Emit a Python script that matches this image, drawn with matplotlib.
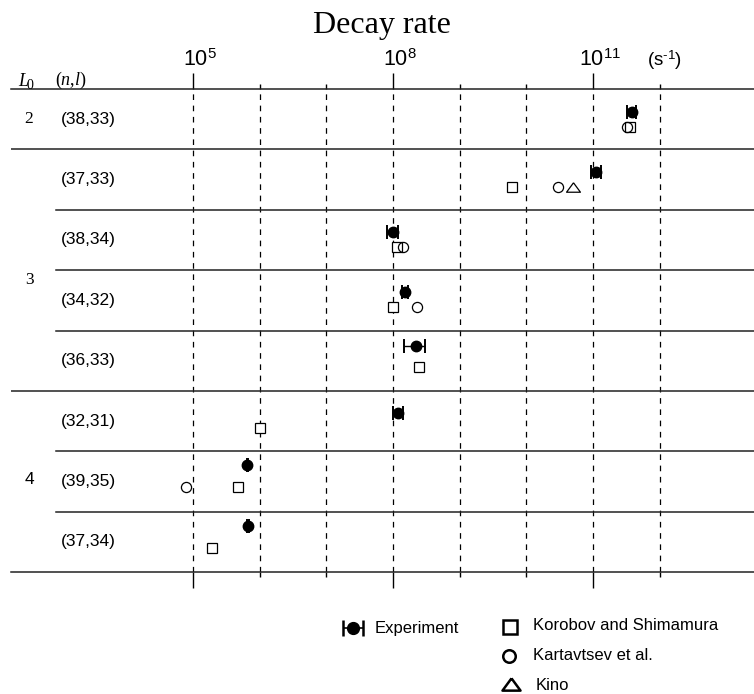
"""Decay rates of antiprotonic helium states: experiment vs theory."""

import numpy as np
import matplotlib
matplotlib.use('Agg')
import matplotlib.pyplot as plt
import matplotlib.transforms as mtransforms
from matplotlib.ticker import NullFormatter

plt.rcParams['mathtext.fontset'] = 'custom'
plt.rcParams['mathtext.rm'] = 'Liberation Serif'
plt.rcParams['mathtext.it'] = 'Liberation Serif:italic'
plt.rcParams['mathtext.sf'] = 'Liberation Sans'

# data, one entry per state (top to bottom), rates in s^-1
states = ["(38,33)", "(37,33)", "(38,34)", "(34,32)",
          "(36,33)", "(32,31)", "(39,35)", "(37,34)"]
L0_groups = ["2", "3", "4"]
exp_rate = [3.85e11, 1.12e11, 1.0e8, 1.51e8, 2.24e8, 1.19e8, 6.5e5, 6.7e5]
exp_err = [0.6e11, 0.2e11, 0.2e8, 0.14e8, 0.8e8, 0.2e8, 0.15e5, 0.3e5]
korobov = [3.6e11, 6.1e9, 1.15e8, 1.0e8, 2.45e8, 1.0e6, 4.7e5, 1.93e5]
kartavtsev = [3.2e11, 3.0e10, 1.41e8, 2.3e8, np.nan, np.nan, 7.9e4, np.nan]
kino = [np.nan, 5.0e10, np.nan, np.nan, np.nan, np.nan, np.nan, np.nan]
major_exp = [5, 8, 11]
grid_exp = [5, 6, 7, 8, 9, 10, 11, 12]

# layout (row units: row i spans i..i+1)
exp_shift = [-0.12, -0.125, -0.13, -0.14, -0.24, -0.13, -0.27, -0.265]
theo_shift = [0.13, 0.12, 0.12, 0.11, 0.10, 0.12, 0.09, 0.10]
group_label_y = [0.5, 3.17, 6.47]
group_breaks = [1, 5]

W, H = 754, 694
fig = plt.figure(figsize=(W / 100, H / 100), dpi=100)
ax = fig.add_axes([11 / W, 1 - 572 / H, 1 - 11 / W, (572 - 89) / H])
ax.set_xscale('log')
x0 = 5 - 182 / 66.67
x1 = 5 + 561 / 66.67
ax.set_xlim(10 ** x0, 10 ** x1)
ax.set_ylim(len(states), 0)

n = len(states)
rows = np.arange(n) + 0.5
y_exp = rows + np.array(exp_shift)
y_theo = rows + np.array(theo_shift)

# vertical dashed grid
for e in grid_exp:
    ax.axvline(10.0 ** e, color='black', lw=0.9, ls=(0, (4.5, 4.5)), zorder=1)

# horizontal separators
for b in range(1, n):
    xmin = 0 if b in group_breaks else 45 / 743
    ax.axhline(b, xmin=xmin, color='#222222', lw=1.1, zorder=1)

for s in ['left', 'right']:
    ax.spines[s].set_visible(False)
for s in ['top', 'bottom']:
    ax.spines[s].set_linewidth(1.1)
    ax.spines[s].set_color('#222222')

ax.set_yticks([])
ax.set_xticks([10.0 ** e for e in major_exp])
ax.set_xticks([10.0 ** e for e in grid_exp if e not in major_exp], minor=True)
ax.xaxis.set_major_formatter(NullFormatter())
ax.xaxis.set_minor_formatter(NullFormatter())
ax.xaxis.set_ticks_position('both')
ax.tick_params(axis='x', which='major', direction='out', length=11.5, width=1.0)
ax.tick_params(axis='x', which='minor', direction='out', length=3.3, width=1.0)

# theory points
ax.plot(korobov, y_theo, ls='none', marker='s', ms=6.5, mfc='white',
        mec='black', mew=0.9, zorder=3)
ax.plot(kartavtsev, y_theo, ls='none', marker='o', ms=7.3, mfc='none',
        mec='black', mew=0.9, zorder=4)
tri = [(0, 0.68), (-1, -0.68), (1, -0.68), (0, 0.68)]
ax.plot(kino, y_theo, ls='none', marker=tri, ms=10, mfc='white',
        mec='black', mew=0.9, zorder=3)

# experiment
ax.errorbar(exp_rate, y_exp, xerr=exp_err, fmt='o', color='black', ms=7.5,
            capsize=4.8, elinewidth=1.0, capthick=1.4, zorder=5)

# tick labels on top
lab_tr = mtransforms.offset_copy(ax.get_xaxis_transform(), fig=fig,
                                 x=7, y=22.5, units='dots')
for e in major_exp:
    ax.text(10.0 ** e, 1.0, r'$\mathsf{10}^{\mathsf{%d}}$' % e, transform=lab_tr,
            ha='center', va='baseline', fontsize=15.5, clip_on=False)
ax.text(10.0 ** 11.96, 1.0, '$\\mathsf{(s}^{\\mathsf{\u2010 1}}\\mathsf{)}$',
        transform=lab_tr, ha='center', va='baseline', fontsize=13.5,
        clip_on=False)

# left labels
tr = mtransforms.blended_transform_factory(ax.transAxes, ax.transData)
for i, st in enumerate(states):
    ax.text((61 - 11) / 743, rows[i], st, transform=tr, ha='left',
            va='center', fontsize=12.5, family='Liberation Sans')
for g, gy in zip(L0_groups, group_label_y):
    fam = 'Liberation Sans' if g == '4' else 'Liberation Serif'
    ax.text((29 - 11) / 743, gy, g, transform=tr, ha='center', va='center',
            fontsize=12.5, family=fam)

fig.text(18 / W, 1 - 86 / H, 'L', fontsize=13, ha='left', va='baseline',
         family='Liberation Serif', style='italic')
fig.text(26.5 / W, 1 - 89 / H, '0', fontsize=10, ha='left', va='baseline',
         family='Liberation Serif')
fig.text(55 / W, 1 - 85 / H, r'$(n{,}l)$', fontsize=13, ha='left',
         va='baseline')
fig.text(382 / W, 1 - 33 / H, 'Decay rate', fontsize=23, ha='center',
         va='baseline', family='Liberation Serif')

# legend drawn in pixel coordinates
lay = fig.add_axes([0, 0, 1, 1])
lay.set_xlim(0, W)
lay.set_ylim(H, 0)
lay.axis('off')
lay.errorbar([352.5], [628], xerr=[10], fmt='o', color='black', ms=8.5,
             capsize=5.8, elinewidth=1.2, capthick=1.8)
lay.plot([509.5], [627], ls='none', marker='s', ms=9.5, mfc='white',
         mec='black', mew=1.8)
lay.plot([508.5], [656], ls='none', marker='o', ms=9, mfc='white',
         mec='black', mew=1.8)
lay.plot([511], [684], ls='none', marker=tri, ms=13, mfc='white',
         mec='black', mew=1.8)
leg_font = dict(fontsize=12, family='Liberation Sans', va='center', ha='left')
lay.text(375, 628, 'Experiment', **leg_font)
lay.text(533, 625, 'Korobov and Shimamura', **leg_font)
lay.text(533, 656, 'Kartavtsev et al.', **leg_font)
lay.text(536, 685, 'Kino', **leg_font)

fig.savefig('out.png', dpi=100)
